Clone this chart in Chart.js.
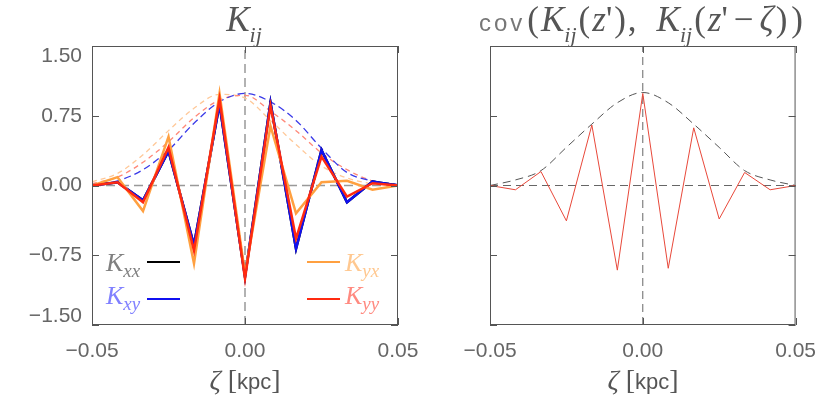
<!DOCTYPE html>
<html>
<head>
<meta charset="utf-8">
<script src="https://cdn.jsdelivr.net/npm/chart.js@4.4.1/dist/chart.umd.min.js"></script>
<style>
  body { margin: 0; width: 830px; height: 405px; background: #fff; position: relative; overflow: hidden; }
  .panel { position: absolute; top: 0; height: 405px; }
  #leftPanel { left: 0; width: 440px; }
  #rightPanel { left: 440px; width: 390px; }
  .txt { position: absolute; white-space: nowrap; line-height: 1; color: #555; }
  .center { transform: translateX(-50%); }
  .m { font-family: "Liberation Serif", serif; font-style: italic; }
  .s { font-family: "Liberation Sans", sans-serif; font-style: normal; }
  .up { font-family: "Liberation Serif", serif; font-style: normal; }
  .par { font-family: "Liberation Serif", serif; font-style: normal; margin: 0 2px; }
  sub { font-family: "Liberation Serif", serif; font-style: italic; line-height: 1; }
  .title { font-size: 35px; }
  .title sub { font-size: 22px; vertical-align: -11px; }
  .leg { font-size: 26px; }
  .leg sub { font-size: 19px; vertical-align: -6px; }
  .swatch { position: absolute; height: 2px; width: 33px; }
</style>
</head>
<body>
<div id="leftPanel" class="panel"><canvas id="kijChart"></canvas></div>
<div id="rightPanel" class="panel"><canvas id="covChart"></canvas></div>

<!-- titles -->
<div class="txt title center m" style="left:244px; top:2px;">K<sub>ij</sub></div>
<div class="txt title center" style="left:642px; top:2px;"><span class="s" style="font-size:24px; color:#777; letter-spacing:3px;">cov</span><span class="par">(</span><span class="m">K</span><sub>ij</sub><span class="par">(</span><span class="m">z</span><span class="up">'</span><span class="par">)</span><span class="up">,</span><span style="margin-left:20px;" class="m">K</span><sub>ij</sub><span class="par">(</span><span class="m">z</span><span class="up">'</span><span class="up" style="margin:0 6px;">−</span><span class="m">ζ</span><span class="par">)</span><span class="par">)</span></div>

<!-- x axis titles -->
<div class="txt center" style="left:245px; top:366px; font-size:28px;"><span class="m">ζ</span> <span class="up">[</span><span class="s" style="font-size:22px;">kpc</span><span class="up">]</span></div>
<div class="txt center" style="left:643px; top:366px; font-size:28px;"><span class="m">ζ</span> <span class="up">[</span><span class="s" style="font-size:22px;">kpc</span><span class="up">]</span></div>

<!-- legend -->
<div class="txt leg m" style="left:106px; top:250px; color:#808080;">K<sub>xx</sub></div>
<div class="swatch" style="left:147px; top:261px; background:#000;"></div>
<div class="txt leg m" style="left:106px; top:283px; color:#8080ff;">K<sub>xy</sub></div>
<div class="swatch" style="left:147px; top:298px; background:#1010f0;"></div>
<div class="swatch" style="left:307px; top:261px; background:#ffa040;"></div>
<div class="txt leg m" style="left:345px; top:250px; color:#ffc890;">K<sub>yx</sub></div>
<div class="swatch" style="left:307px; top:298px; background:#ff2a10;"></div>
<div class="txt leg m" style="left:345px; top:283px; color:#ff8a80;">K<sub>yy</sub></div>

<script>
// sample positions in kpc
const zeta = [-0.05, -0.04167, -0.03333, -0.025, -0.01667, -0.00833, 0, 0.00833, 0.01667, 0.025, 0.03333, 0.04167, 0.05];

// left panel: K_ij components
const kxx = [0, 0.035, -0.16, 0.37, -0.64, 0.875, -0.98, 0.89, -0.68, 0.38, -0.18, 0.043, 0];
const kxy = [0, 0.035, -0.16, 0.37, -0.64, 0.875, -0.98, 0.89, -0.68, 0.38, -0.18, 0.043, 0];
const kyx = [0, 0.09, -0.275, 0.525, -0.84, 0.99, -0.95, 0.64, -0.30, 0.035, 0.05, -0.046, 0];
const kyy = [0, 0.035, -0.18, 0.41, -0.70, 0.93, -1.0, 0.857, -0.57, 0.31, -0.12, 0.025, 0];

// left panel: dashed envelopes
const envXy = [0.01, 0.05, 0.17, 0.38, 0.67, 0.9, 0.99, 0.9, 0.7, 0.4, 0.14, 0.05, 0.01];
const envYy = [0.02, 0.09, 0.25, 0.47, 0.73, 0.92, 0.97, 0.8, 0.59, 0.35, 0.17, 0.05, 0.01];
const envYx = [0.04, 0.13, 0.33, 0.59, 0.83, 0.98, 0.94, 0.7, 0.44, 0.21, 0.08, 0.02, 0.0];

// right panel: covariance and its envelope
const cov = [0, -0.046, 0.15, -0.38, 0.65, -0.91, 0.99, -0.89, 0.62, -0.36, 0.14, -0.046, 0];
const covEnv = [0, 0.06, 0.16, 0.41, 0.66, 0.89, 1.0, 0.89, 0.66, 0.41, 0.16, 0.06, 0];

// axis ticks
const xTicks = [-0.05, 0, 0.05];
const yTicks = [-1.5, -0.75, 0, 0.75, 1.5];

const TICK_FONT = { family: "Liberation Sans", size: 21 };

function fmt(v) {
  const s = Math.abs(v) < 1e-9 ? "0.00" : v.toFixed(2);
  return s.replace("-", "\u2212");
}

function pts(values) {
  return zeta.map((z, i) => ({ x: z, y: values[i] }));
}

// box frame, zero lines, inward tick marks and y labels
const framePlugin = {
  id: "frame",
  beforeDatasetsDraw(chart, args, opts) {
    const { ctx, chartArea: a, scales } = chart;
    const y0 = scales.y.getPixelForValue(0);
    const x0 = scales.x.getPixelForValue(0);
    ctx.save();
    ctx.strokeStyle = opts.refColor;
    ctx.lineWidth = opts.refWidth;
    ctx.setLineDash(opts.refDash);
    ctx.beginPath();
    ctx.moveTo(a.left, y0);
    ctx.lineTo(a.right, y0);
    ctx.moveTo(x0, a.bottom);
    ctx.lineTo(x0, a.top);
    ctx.stroke();
    ctx.restore();
  },
  afterDraw(chart, args, opts) {
    const { ctx, chartArea: a, scales } = chart;
    ctx.save();
    ctx.strokeStyle = "#555";
    ctx.lineWidth = 1;
    ctx.strokeRect(a.left + 0.5, a.top + 0.5, a.right - a.left - 1, a.bottom - a.top - 1);
    ctx.beginPath();
    scales.y.ticks.forEach((t) => {
      const py = Math.round(scales.y.getPixelForValue(t.value)) + 0.5;
      ctx.moveTo(a.left, py);
      ctx.lineTo(a.left + 7, py);
      ctx.moveTo(a.right, py);
      ctx.lineTo(a.right - 7, py);
    });
    scales.x.ticks.forEach((t) => {
      const px = Math.round(scales.x.getPixelForValue(t.value)) + 0.5;
      ctx.moveTo(px, a.bottom);
      ctx.lineTo(px, a.bottom - 7);
      ctx.moveTo(px, a.top);
      ctx.lineTo(px, a.top + 7);
    });
    ctx.stroke();

    if (opts.yLabels) {
      ctx.fillStyle = "#666";
      ctx.font = TICK_FONT.size + "px " + TICK_FONT.family;
      ctx.textAlign = "right";
      ctx.textBaseline = "middle";
      scales.y.ticks.forEach((t) => {
        let py = scales.y.getPixelForValue(t.value);
        py = Math.min(Math.max(py, a.top + 10), a.bottom - 9);
        ctx.fillText(fmt(t.value), a.left - 10, py);
      });
    }
    ctx.restore();
  },
};

function makeScales(yWidth) {
  return {
    x: {
      type: "linear",
      min: -0.05,
      max: 0.05,
      afterBuildTicks: (s) => { s.ticks = xTicks.map((v) => ({ value: v })); },
      afterFit: (s) => { s.height = 80; },
      grid: { display: false, drawTicks: false },
      border: { display: false },
      ticks: { font: TICK_FONT, color: "#666", padding: 14, maxRotation: 0, autoSkip: false, callback: (v) => fmt(v) },
    },
    y: {
      min: -1.5,
      max: 1.5,
      afterBuildTicks: (s) => { s.ticks = yTicks.map((v) => ({ value: v })); },
      afterFit: (s) => { s.width = yWidth; },
      grid: { display: false, drawTicks: false },
      border: { display: false },
      ticks: { display: false },
    },
  };
}

function solid(label, values, color, width, order) {
  return { label, data: pts(values), borderColor: color, borderWidth: width, pointRadius: 0, tension: 0, order };
}

function dashed(label, values, color, width, dash, order) {
  return {
    label, data: pts(values), borderColor: color, borderWidth: width, borderDash: dash,
    pointRadius: 0, cubicInterpolationMode: "monotone", order,
  };
}

new Chart(document.getElementById("kijChart"), {
  type: "line",
  data: {
    datasets: [
      dashed("Kyx envelope", envYx, "#ffc898", 1.3, [5, 4], 6),
      dashed("Kyy envelope", envYy, "#ff8878", 1.3, [5, 4], 5),
      dashed("Kxy envelope", envXy, "#3a3ae8", 1.3, [7, 4], 4),
      solid("Kxx", kxx, "#000000", 2.5, 3),
      solid("Kxy", kxy, "#1010f0", 2.5, 2),
      solid("Kyx", kyx, "#ffa040", 2.5, 1),
      solid("Kyy", kyy, "#ff2a10", 2.5, 0),
    ],
  },
  options: {
    responsive: true,
    maintainAspectRatio: false,
    animation: false,
    layout: { padding: { top: 46, right: 42, left: 0, bottom: 0 } },
    scales: makeScales(92),
    plugins: {
      legend: { display: false },
      tooltip: { enabled: false },
      frame: { refColor: "#999", refWidth: 1.5, refDash: [9, 5], yLabels: true },
    },
  },
  plugins: [framePlugin],
});

new Chart(document.getElementById("covChart"), {
  type: "line",
  data: {
    datasets: [
      dashed("envelope", covEnv, "#555", 1, [8, 5], 1),
      solid("cov", cov, "#e8483a", 1, 0),
    ],
  },
  options: {
    responsive: true,
    maintainAspectRatio: false,
    animation: false,
    layout: { padding: { top: 46, right: 33, left: 0, bottom: 0 } },
    scales: makeScales(50),
    plugins: {
      legend: { display: false },
      tooltip: { enabled: false },
      frame: { refColor: "#666", refWidth: 1, refDash: [8, 5], yLabels: false },
    },
  },
  plugins: [framePlugin],
});
</script>
</body>
</html>
